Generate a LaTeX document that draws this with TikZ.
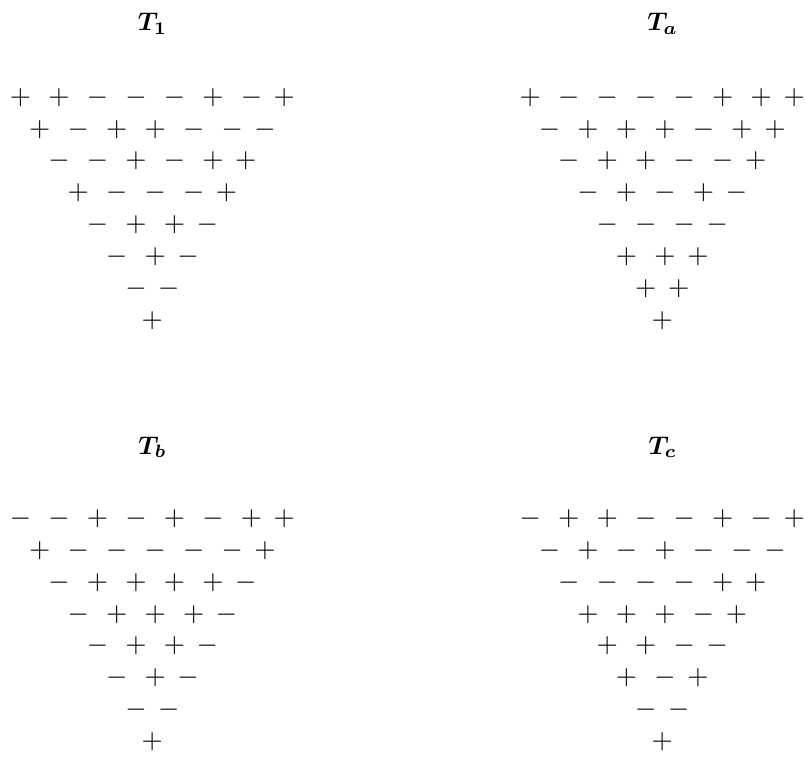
\documentclass[tikz,border=0pt]{standalone}
\usepackage{bm}
\tikzset{
  sgn/.style={inner sep=0pt,anchor=center,scale=1.25},
  ttl/.style={inner sep=0pt,anchor=base,scale=1.17}
}
% #1 name, #2 centre x, #3 first row y, #4 rows
\newcommand{\steintri}[4]{%
  \foreach \rowlist [count=\i] in {#4} {
    \pgfmathtruncatemacro{\n}{9-\i}
    \pgfmathsetmacro{\W}{\n>1 ? 38.5*(\n-2)+32.8 : 0}
    \pgfmathsetmacro{\yy}{#3+31.9*(\i-1)}
    \foreach \sg [count=\j] in \rowlist {
      \pgfmathsetmacro{\xx}{\j==\n ? #2+\W/2 : #2-\W/2+38.5*(\j-1)}
      \node[sgn] (#1-\i-\j) at (\xx,\yy) {$\sg$};
    }
  }%
}
\begin{document}
\begin{tikzpicture}[x=0.458pt,y=-0.458pt]
\useasboundingbox (0,0) rectangle (806,758);
\node[ttl] (t1) at (152.5,30.5) {$\bm{T_1}$};
\node[ttl] (ta) at (662.5,30.5) {$\bm{T_a}$};
\node[ttl] (tb) at (152.5,454) {$\bm{T_b}$};
\node[ttl] (tc) at (662.5,454) {$\bm{T_c}$};
\steintri{A}{152.3}{97.3}{{+,+,-,-,-,+,-,+},{+,-,+,+,-,-,-},{-,-,+,-,+,+},{+,-,-,-,+},{-,+,+,-},{-,+,-},{-,-},{+}}
\steintri{B}{662.2}{97.3}{{+,-,-,-,-,+,+,+},{-,+,+,+,-,+,+},{-,+,+,-,-,+},{-,+,-,+,-},{-,-,-,-},{+,+,+},{+,+},{+}}
\steintri{C}{152.3}{518.5}{{-,-,+,-,+,-,+,+},{+,-,-,-,-,-,+},{-,+,+,+,+,-},{-,+,+,+,-},{-,+,+,-},{-,+,-},{-,-},{+}}
\steintri{D}{662.2}{518.5}{{-,+,+,-,-,+,-,+},{-,+,-,+,-,-,-},{-,-,-,-,+,+},{+,+,+,-,+},{+,+,-,-},{+,-,+},{-,-},{+}}
\end{tikzpicture}
\end{document}
